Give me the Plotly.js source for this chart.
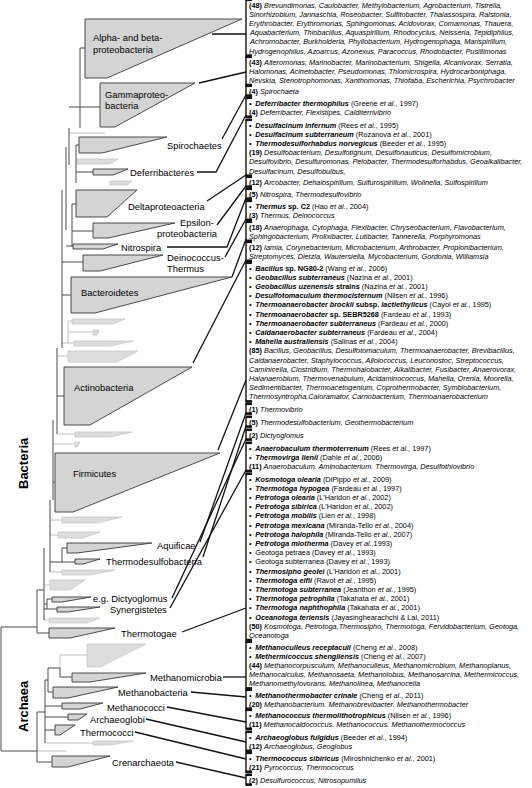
<!DOCTYPE html>
<html><head><meta charset="utf-8">
<script src="https://cdn.plot.ly/plotly-3.0.1.min.js"></script>
<style>html,body{margin:0;padding:0;background:#fff}#chart{width:532px;height:788px}</style>
</head><body><div id="chart"></div>
<script>
// ---------------- DATA ----------------
// Collapsed clades (tree units): left x, top y, tip x at top, tip x at bottom, bottom y, tone
const cladeNames   = ["Alpha-beta","Gamma","Spirochaetes","Deferribacteres","Delta","Epsilon","Nitrospira","Deinococcus","Bacteroidetes","Actinobacteria","Firmicutes","Aquificae","Thermodesulfobacteria","Dictyoglomus","Synergistetes","Thermotogae","Methanomicrobia","Methanobacteria","Methanococci","Archaeoglobi","Thermococci","Crenarchaeota",
  "g1","g2","g3","g4","g5","g6","g7","g8","g9","g10","g11","g12","g13","g14","g15"];
const cladeX0      = [85,100,79,93,76,93,73,83,71,64,55,67,75,52,57,49,72,53,62,68,55,52, 77,110,72,93,74,68,75,75,62,58,62,50,49,87,93];
const cladeYTop    = [19,83,137,169,190,223,244,255,277,367,453,543,559,597,607,628,673,687,703,714,725,756, 159,181,319,330,341,351,432,442,517,532,570,580,618,644,741];
const cladeXTopTip = [242,195,167,128,137,175,118,163,232,192,220,152,100,91,100,115,146,118,103,87,75,110, 118,132,125,99,133,138,132,80,122,100,115,85,100,146,133];
const cladeXBotTip = [107,115,102,113,107,108,103,100,95,90,73,77,83,62,68,70,90,68,80,78,60,68, 110,127,113,97,110,117,110,77,97,83,90,70,87,100,110];
const cladeYBot    = [78,127,153,175,217,238,249,271,313,425,512,553,564,602,612,638,682,698,709,720,735,767, 164,185,324,335,346,362,437,447,523,538,575,590,623,667,745];
const cladeTone    = ["d","d","d","d","d","d","d","d","d","d","d","d","d","d","d","d","d","d","d","d","d","d", "l","l","l","l","l","l","l","l","l","l","l","l","l","l","l"];

// Tree branches: x1,y1,x2,y2,tone
const branchX1 = [37,37,37,44,44,44,47,47,44,44,50,50,50,62,62,62,50,50,50,53,53,53,53,57,57,57,57,57,62,62,68,68,68,68,62,62,62,66,66,72,72,72,72,66,69,69,80,80,80,69,69,76,76,76,76,76,
                  1,1,1,37,37,37,37,45,45,45,45,45,45,48,48,48,60,60,60,60];
const branchY1 = [590,633,590,548,620,604,599,599,609,585,548,500,572,555,548,548,562,535,520,500,420,482,444,420,348,434,396,356,348,190,332,321,321,332,343,295,262,190,147,220,204,204,231,246,147,128,128,48,48,107,133,165,145,145,161,172,
                  627,627,751,712,762,751,712,680,743,730,717,706,680,668,692,668,655,668,655,677];
const branchX2 = [37,49,44,44,49,47,47,52,57,50,50,50,62,62,62,67,75,58,62,53,53,55,75,57,57,75,64,68,62,62,68,68,72,93,74,71,83,66,66,72,72,76,93,73,69,69,80,80,85,100,105,76,76,79,77,93,
                  1,37,37,37,52,67,45,45,93,55,68,62,48,48,53,60,60,60,87,72];
const branchY2 = [633,633,590,620,620,604,609,599,609,585,548,572,572,555,562,548,562,535,520,500,500,482,444,420,434,434,396,356,348,348,332,343,321,332,343,295,262,190,230,220,247,204,231,246,147,165,128,128,48,107,133,165,183,145,161,172,
                  751,627,751,762,762,751,712,743,743,730,717,706,680,692,692,668,668,677,655,677];
const branchTone = ["d","d","d","d","l","d","d","d","d","l","d","d","l","d","d","d","d","l","l","d","d","d","l","d","d","l","d","l","d","d","l","l","l","l","l","d","d","d","d","d","d","d","d","d","d","d","d","d","d","d","l","d","d","d","l","d",
                  "d","d","d","d","d","l","d","d","l","d","d","d","d","d","d","d","l","d","l","d"];

// Group labels on the tree
const labelText = ["Alpha- and beta-","proteobacteria","Gammaproteo-","bacteria","Spirochaetes","Deferribacteres","Deltaproteoacteria","Epsilon-","proteobacteria","Nitrospira","Deinococcus-","Thermus","Bacteroidetes","Actinobacteria","Firmicutes","Aquificae","Thermodesulfobacteria","e.g. Dictyoglomus","Synergistetes","Thermotogae","Methanomicrobia","Methanobacteria","Methanococci","Archaeoglobi","Thermococci","Crenarchaeota"];
const labelX = [93,93,105,105,167,130,128,180,157,121,167,167,81,74,73,157,106,93,110,121,150,118,107,90,80,112];
const labelY = [37,49,94,105,145,172,206,222,233,247,257,268,292,387,473,545,561,598,609,633,677,692,707,719,732,762];

// Leader lines from tree labels to the lists (polyline vertices)
const connX = [[212,246],[199,246],[222,246],[197,216,246],[207,246],[217,246],[167,227,246],[225,246],[232,246],[193,246],[218,246],[200,246],[203,246],[172,246],[170,246],[182,246],[223,246],[191,246],[167,246],[146,246],[135,246],[176,246]];
const connY = [[34,34],[83,72],[139,95],[172,172,115],[201,175],[225,186],[247,247,198],[257,219],[277,239],[363,260],[450,380],[542,413],[557,426],[598,439],[608,470],[632,608],[677,677],[692,697],[707,722],[719,742],[732,759],[762,778]];

// Domain labels
const domainText = ["Bacteria","Archaea"];
const domainY = [463,706];

// Right-hand lists of genera / isolated strains
const groupFirstY = [5,62,91,103,125,182,194,206,227,247,268,409,422,435,448,479,647,695,715,737,758,780];
const E = "<i>et al.</i>";
const B = "\u2022\u2002";
const groupLines = [
 ["<b>(48)</b> <i>Brevundimonas, Caulobacter, Methylobacterium, Agrobacterium, Tistrella,</i>",
  "<i>Sinorhizobium, Jannaschia, Roseobacter, Sulfitobacter, Thalassospira, Ralstonia,</i>",
  "<i>Erythrobacter, Erythromonas, Sphingomonas, Acidovorax, Comamonas, Thauera,</i>",
  "<i>Aquabacterium, Thiobacillus, Aquaspirillum, Rhodocyclus, Neisseria, Tepidiphilus,</i>",
  "<i>Achromobacter, Burkholderia, Phyllobacterium, Hydrogenophaga, Marispirillum,</i>",
  "<i>Hydrogenophilus, Azoarcus, Azonexus, Paracoccus, Rhodobacter, Pusillimonas</i>"],
 ["<b>(43)</b> <i>Alteromonas, Marinobacter, Marinobacterium, Shigella, Alcanivorax, Serratia,</i>",
  "<i>Halomonas, Acinetobacter, Pseudomonas, Thiomicrospira, Hydrocarboniphaga,</i>",
  "<i>Nevskia, Stenotrophomonas, Xanthomonas, Thiofaba, Escherichia, Psychrobacter</i>"],
 ["<b>(4)</b> <i>Spirochaeta</i>"],
 [B+"<b><i>Deferribacter thermophilus</i></b> (Greene "+E+", 1997)",
  "<b>(4)</b> <i>Deferribacter, Flexistipes, Calditerrivibrio</i>"],
 [B+"<b><i>Desulfacinum infernum</i></b> (Rees "+E+", 1995)",
  B+"<b><i>Desulfacinum subterraneum</i></b> (Rozanova "+E+", 2001)",
  B+"<b><i>Thermodesulforhabdus norvegicus</i></b> (Beeder "+E+", 1995)",
  "<b>(19)</b> <i>Desulfobacterium, Desulfotignum, Desulfonauticus, Desulfomicrobium,</i>",
  "<i>Desulfovibrio, Desulfuromonas, Pelobacter, Thermodesulforhabdus, Geoalkalibacter,</i>",
  "<i>Desulfacinum, Desulfobulbus,</i>"],
 ["<b>(12)</b> <i>Arcobacter, Dehalospirillum, Sulfurospirillum, Wolinella, Sulfospirillum</i>"],
 ["<b>(5)</b> <i>Nitrospira, Thermodesulfovibrio</i>"],
 [B+"<b><i>Thermus</i> sp. C2</b> (Hao "+E+", 2004)",
  "<b>(3)</b> <i>Thermus, Deinococcus</i>"],
 ["<b>(18)</b> <i>Anaerophaga, Cytophaga, Flexibacter, Chryseobacterium, Flavobacterium,</i>",
  "<i>Sphingobacterium, Prolixibacter, Lutibacter, Tannerella, Porphyromonas</i>"],
 ["<b>(12)</b> <i>Iamia, Corynebacterium, Microbacterium, Arthrobacter, Propionibacterium,</i>",
  "<i>Streptomyces, Dietzia, Wautersiella, Mycobacterium, Gordonia, Williamsia</i>"],
 [B+"<b><i>Bacillus</i> sp. NG80-2</b> (Wang "+E+", 2006)",
  B+"<b><i>Geobacillus subterraneus</i></b> (Nazina "+E+", 2001)",
  B+"<b><i>Geobacillus uzenensis</i> strains</b> (Nazina "+E+", 2001)",
  B+"<b><i>Desulfotomaculum thermocisternum</i></b> (Nilsen "+E+", 1996)",
  B+"<b><i>Thermoanaerobacter brockii</i> subsp. <i>lactiethylicus</i></b> (Cayol "+E+", 1995)",
  B+"<b><i>Thermoanaerobacter</i> sp. SEBR5268</b> (Fardeau "+E+", 1993)",
  B+"<b><i>Thermoanaerobacter subterraneus</i></b> (Fardeau "+E+", 2000)",
  B+"<b><i>Caldanaerobacter subterraneus</i></b> (Fardeau "+E+", 2004)",
  B+"<b><i>Mahella australiensis</i></b> (Salinas "+E+", 2004)",
  "<b>(85)</b> <i>Bacillus, Geobacillus, Desulfotomaculum, Thermoanaerobacter, Brevibacillus,</i>",
  "<i>Caldanaerobacter, Staphylococcus, Alloiococcus, Leuconostoc, Streptococcus,</i>",
  "<i>Caminicella, Clostridium, Thermohalobacter, Alkalibacter, Fusibacter, Anaerovorax,</i>",
  "<i>Halanaerobium, Thermovenabulum, Acidaminococcus, Mahella, Orenia, Moorella,</i>",
  "<i>Sedimentibacter, Thermoacetogenium, Coprothermobacter, Symbiobacterium,</i>",
  "<i>Thermosyntropha,Caloramator, Carnobacterium, Thermoanaerobacterium</i>"],
 ["<b>(1)</b> <i>Thermovibrio</i>"],
 ["<b>(5)</b> <i>Thermodesulfobacterium, Geothermobacterium</i>"],
 ["<b>(2)</b> <i>Dictyoglomus</i>"],
 [B+"<b><i>Anaerobaculum thermoterrenum</i></b> (Rees "+E+", 1997)",
  B+"<b><i>Thermovirga lienii</i></b> (Dahle "+E+", 2006)",
  "<b>(11)</b> <i>Anaerobaculum. Aminobacterium. Thermovirga, Desulfothiovibrio</i>"],
 [B+"<b><i>Kosmotoga olearia</i></b> (DiPippo "+E+", 2009)",
  B+"<b><i>Thermotoga hypogea</i></b> (Fardeau "+E+", 1997)",
  B+"<b><i>Petrotoga olearia</i></b> (L'Haridon "+E+", 2002)",
  B+"<b><i>Petrotoga sibirica</i></b> (L'Haridon "+E+", 2002)",
  B+"<b><i>Petrotoga mobilis</i></b> (Lien "+E+", 1998)",
  B+"<b><i>Petrotoga mexicana</i></b> (Miranda-Tello "+E+", 2004)",
  B+"<b><i>Petrotoga halophila</i></b> (Miranda-Tello "+E+", 2007)",
  B+"<b><i>Petrotoga miotherma</i></b> (Davey "+E+",1993)",
  B+"Geotoga petraea (Davey "+E+", 1993)",
  B+"Geotoga subterranea (Davey "+E+", 1993)",
  B+"<b><i>Thermosipho geolei</i></b> (L'Haridon "+E+", 2001)",
  B+"<b><i>Thermotoga elfii</i></b> (Ravot "+E+", 1995)",
  B+"<b><i>Thermotoga subterranea</i></b> (Jeanthon "+E+", 1995)",
  B+"<b><i>Thermotoga petrophila</i></b> (Takahata "+E+", 2001)",
  B+"<b><i>Thermotoga naphthophila</i></b> (Takahata "+E+", 2001)",
  B+"<b><i>Oceanotoga teriensis</i></b> (Jayasinghearachchi &amp; Lal, 2011)",
  "<b>(50)</b> <i>Kosmotoga, Petrotoga,Thermosipho, Thermotoga, Fervidobacterium, Geotoga,</i>",
  "<i>Oceanotoga</i>"],
 [B+"<b><i>Methanoculleus receptaculi</i></b> (Cheng "+E+", 2008)",
  B+"<b><i>Methermicoccus shengliensis</i></b> (Cheng "+E+", 2007)",
  "<b>(44)</b> <i>Methanocorpusculum, Methanoculleus, Methanomicrobium, Methanoplanus,</i>",
  "<i>Methanocalculus, Methanosaeta, Methanolobus, Methanosarcina, Methermicoccus,</i>",
  "<i>Methanomethylovorans, Methanolinea, Methanocella</i>"],
 [B+"<b><i>Methanothermobacter crinale</i></b> (Cheng "+E+", 2011)",
  "<b>(20)</b> <i>Methanobacterium. Methanobrevibacter. Methanothermobacter</i>"],
 [B+"<b><i>Methanococcus thermolithotrophicus</i></b> (Nilsen "+E+", 1996)",
  "<b>(11)</b> <i>Methanocaldococcus. Methanococcus. Methanothermococcus</i>"],
 [B+"<b><i>Archaeoglobus fulgidus</i></b> (Beeder "+E+", 1994)",
  "<b>(12)</b> <i>Archaeoglobus, Geoglobus</i>"],
 [B+"<b><i>Thermococcus sibiricus</i></b> (Miroshnichenko "+E+", 2001)",
  "<b>(21)</b> <i>Pyrococcus, Thermococcus</i>"],
 ["<b>(2)</b> <i>Desulfurococcus, Nitrosopumilus</i>"]
];

// ---------------- STYLE / LAYOUT ----------------
const PITCH = 9.2, LIST_X = 249, BRACKET_X = 246, TICK_X2 = 252;
const FONT = "Liberation Sans, Arial, Helvetica, sans-serif";
const INK = "#000000";
const traces = [];

// clades
for (let i = 0; i < cladeNames.length; i++) {
  const dark = cladeTone[i] === "d";
  traces.push({
    type: "scatter", mode: "lines", hoverinfo: "skip",
    x: [cladeX0[i], cladeXTopTip[i], cladeXBotTip[i], cladeX0[i], cladeX0[i]],
    y: [cladeYTop[i], cladeYTop[i], cladeYBot[i], cladeYBot[i], cladeYTop[i]],
    fill: "toself", fillcolor: dark ? "#d4d4d4" : "#dddddd",
    line: {color: dark ? "#3a3a3a" : "#c6c6c6", width: dark ? 0.9 : 0.8}
  });
}
// branches
function seg(tone) {
  const xs = [], ys = [];
  for (let i = 0; i < branchX1.length; i++) {
    if (branchTone[i] !== tone) continue;
    xs.push(branchX1[i], branchX2[i], null);
    ys.push(branchY1[i], branchY2[i], null);
  }
  return {xs, ys};
}
const sl = seg("l"), sd = seg("d");
traces.push({type:"scatter", mode:"lines", hoverinfo:"skip", x: sl.xs, y: sl.ys, line:{color:"#c2c2c2", width:1}});
traces.push({type:"scatter", mode:"lines", hoverinfo:"skip", x: sd.xs, y: sd.ys, line:{color:"#4a4a4a", width:1}});

// connectors
const cx = [], cy = [];
connX.forEach((arr, i) => { arr.forEach((v, j) => { cx.push(v); cy.push(connY[i][j]); }); cx.push(null); cy.push(null); });
traces.push({type:"scatter", mode:"lines", hoverinfo:"skip", x: cx, y: cy, line:{color:"#111", width:1.3}});

// brackets
const bx = [], by = [], tx = [], ty = [];
const annotations = [];
groupLines.forEach((lines, g) => {
  const top = groupFirstY[g] - 5.2, bot = groupFirstY[g] + (lines.length - 1) * PITCH + 4.6;
  bx.push(BRACKET_X, BRACKET_X, null); by.push(top, bot, null);
  tx.push(BRACKET_X - 0.6, TICK_X2, null, BRACKET_X - 0.6, TICK_X2, null);
  ty.push(top, top, null, bot, bot, null);
  lines.forEach((t, k) => {
    annotations.push({x: LIST_X, y: groupFirstY[g] + k * PITCH, xref:"x", yref:"y", text: t, showarrow:false,
      xanchor:"left", yanchor:"middle", borderpad:0, borderwidth:0,
      font:{family: FONT, size: 7.3, color: INK}});
  });
});
traces.push({type:"scatter", mode:"lines", hoverinfo:"skip", x: bx, y: by, line:{color:"#111", width:1.4}});
traces.push({type:"scatter", mode:"lines", hoverinfo:"skip", x: tx, y: ty, line:{color:"#111", width:2.6}});

// tree labels
labelText.forEach((t, i) => {
  annotations.push({x: labelX[i], y: labelY[i], xref:"x", yref:"y", text: t, showarrow:false,
    xanchor:"left", yanchor:"middle", borderpad:0, borderwidth:0,
    font:{family: FONT, size: 9.4, color: INK}});
});
domainText.forEach((t, i) => {
  annotations.push({x: 23, y: domainY[i], xref:"x", yref:"y", text: "<b>"+t+"</b>", showarrow:false,
    textangle:-90, xanchor:"center", yanchor:"middle", borderpad:0, borderwidth:0,
    font:{family: FONT, size: 13, color: INK}});
});

const layout = {
  width: 532, height: 788, margin:{l:0, r:0, t:0, b:0},
  paper_bgcolor:"#fff", plot_bgcolor:"#fff", showlegend:false,
  font:{family: FONT, color: INK},
  xaxis:{range:[0,532], visible:false, fixedrange:true},
  yaxis:{range:[788,0], visible:false, fixedrange:true},
  annotations
};
Plotly.newPlot("chart", traces, layout, {staticPlot:true, displayModeBar:false});
</script>
</body></html>
